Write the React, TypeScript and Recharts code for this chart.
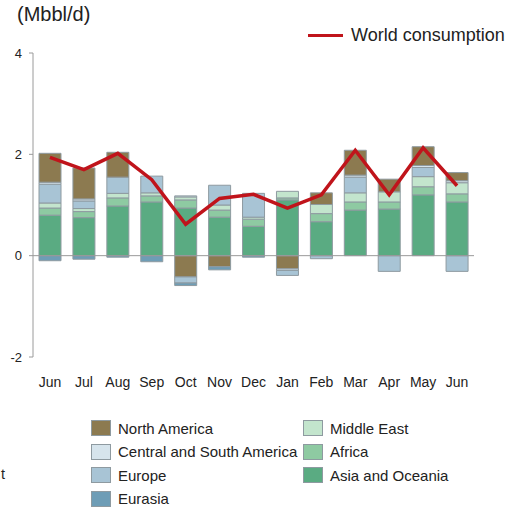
import { Bar, ComposedChart, Line, XAxis, YAxis, ReferenceLine } from "recharts"

const months = ["Jun", "Jul", "Aug", "Sep", "Oct", "Nov", "Dec", "Jan", "Feb", "Mar", "Apr", "May", "Jun"]

// signed monthly changes by region (Mbbl/d)
const asiaOceania = [0.8, 0.75, 0.98, 1.06, 0.94, 0.76, 0.58, 1.1, 0.67, 0.9, 0.92, 1.2, 1.06]
const africa = [0.14, 0.12, 0.16, 0.12, 0.16, 0.14, 0.14, 0.04, 0.16, 0.16, 0.14, 0.16, 0.16]
const middleEast = [0.1, 0.06, 0.09, 0.06, 0.06, 0.1, 0.04, 0.13, 0.18, 0.18, 0.2, 0.2, 0.22]
const eurasia = [-0.1, -0.07, -0.03, -0.12, -0.05, -0.06, -0.03, 0, 0, 0, 0, 0, 0]
const europe = [0.37, 0.15, 0.32, 0.33, -0.12, 0.39, 0.47, -0.1, -0.06, 0.31, -0.31, 0.18, -0.31]
const centralSouthAmerica = [0.04, 0.04, 0, 0, 0.02, 0, 0, -0.03, 0, 0.04, 0, 0.04, 0.04]
const northAmerica = [0.57, 0.61, 0.49, 0, -0.42, -0.22, 0, -0.26, 0.23, 0.49, 0.25, 0.37, 0.16]
const worldConsumption = [1.94, 1.7, 2.02, 1.5, 0.62, 1.13, 1.21, 0.94, 1.2, 2.08, 1.2, 2.13, 1.38]

const yTicks = [-2, 0, 2, 4]

const regions = [
  { key: "asia", name: "Asia and Oceania", values: asiaOceania, color: "#5aab82" },
  { key: "africa", name: "Africa", values: africa, color: "#8ecaa2" },
  { key: "me", name: "Middle East", values: middleEast, color: "#c3e5cd" },
  { key: "eurasia", name: "Eurasia", values: eurasia, color: "#6e9db6" },
  { key: "europe", name: "Europe", values: europe, color: "#a8c4d5" },
  { key: "csa", name: "Central and South America", values: centralSouthAmerica, color: "#d6e4ec" },
  { key: "na", name: "North America", values: northAmerica, color: "#8c7a50" },
]

// negatives stack away from zero in this order
const negOrder = ["na", "csa", "europe", "eurasia"]

const chartData = months.map((m, i) => {
  const row: Record<string, number | string> = { month: m, world: worldConsumption[i] }
  regions.forEach((r) => {
    row[r.key + "Pos"] = Math.max(r.values[i], 0)
    row[r.key + "Neg"] = Math.min(r.values[i], 0)
  })
  return row
})

const legendLeft = ["North America", "Central and South America", "Europe", "Eurasia"]
const legendRight = ["Middle East", "Africa", "Asia and Oceania"]

const font = "'Liberation Sans', Arial, sans-serif"
const barStroke = "#8e9aa0"

function Swatch({ name, x, y }: { name: string; x: number; y: number }) {
  const r = regions.find((r) => r.name === name)!
  return (
    <div style={{ position: "absolute", left: x, top: y - 8, display: "flex", alignItems: "center", height: 16 }}>
      <div style={{ width: 20, height: 16, background: r.color, border: `1px solid ${barStroke}`, boxSizing: "border-box" }} />
      <span style={{ marginLeft: 7, fontSize: 15, color: "#222", whiteSpace: "nowrap" }}>{name}</span>
    </div>
  )
}

export default function App() {
  return (
    <div style={{ position: "absolute", left: 0, top: 0, width: 511, height: 509, background: "#fff", fontFamily: font }}>
      <div style={{ position: "absolute", left: 17, top: 3, fontSize: 20, color: "#222" }}>(Mbbl/d)</div>
      <div style={{ position: "absolute", left: 308, top: 25, display: "flex", alignItems: "center" }}>
        <div style={{ width: 35, height: 3, background: "#c0141b" }} />
        <span style={{ marginLeft: 8, fontSize: 18, color: "#222" }}>World consumption</span>
      </div>

      <ComposedChart
        width={511}
        height={400}
        data={chartData}
        stackOffset="sign"
        margin={{ top: 53, right: 37, left: 0, bottom: 13 }}
        barSize={22}
        style={{ position: "absolute", left: 0, top: 0 }}
      >
        <XAxis
          dataKey="month"
          axisLine={false}
          tickLine={false}
          tickSize={0}
          tickMargin={20}
          height={30}
          interval={0}
          tick={{ fontSize: 14, fill: "#222", fontFamily: font }}
        />
        <YAxis
          domain={[-2, 4]}
          ticks={yTicks}
          width={33}
          tickSize={4}
          tickMargin={7}
          axisLine={{ stroke: "#9a9a9a" }}
          tickLine={{ stroke: "#9a9a9a" }}
          tick={{ fontSize: 13, fill: "#222", fontFamily: font }}
        />
        {negOrder.map((k) => {
          const r = regions.find((r) => r.key === k)!
          return (
            <Bar
              key={k + "Neg"}
              dataKey={k + "Neg"}
              stackId="a"
              fill={r.color}
              stroke={barStroke}
              strokeWidth={1}
              isAnimationActive={false}
              legendType="none"
            />
          )
        })}
        {regions.map((r) => (
          <Bar
            key={r.key + "Pos"}
            dataKey={r.key + "Pos"}
            name={r.name}
            stackId="a"
            fill={r.color}
            stroke={barStroke}
            strokeWidth={1}
            isAnimationActive={false}
          />
        ))}
        <ReferenceLine y={0} stroke="#9a9a9a" />
        <Line
          type="linear"
          dataKey="world"
          stroke="#c0141b"
          strokeWidth={3.5}
          dot={false}
          isAnimationActive={false}
        />
      </ComposedChart>

      {legendLeft.map((n, i) => (
        <Swatch key={n} name={n} x={91} y={428 + i * 23.5} />
      ))}
      {legendRight.map((n, i) => (
        <Swatch key={n} name={n} x={303} y={428 + i * 23.5} />
      ))}
      <div style={{ position: "absolute", left: 1, top: 466, fontSize: 14.5, color: "#222" }}>t</div>
    </div>
  )
}
